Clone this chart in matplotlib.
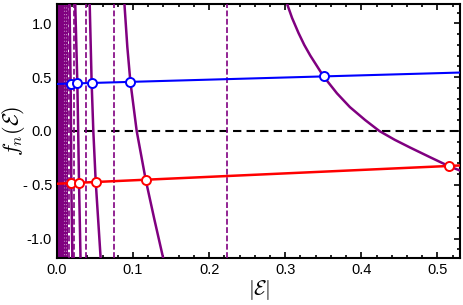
import matplotlib
matplotlib.use("Agg")
import matplotlib.pyplot as plt
from matplotlib.ticker import MultipleLocator, FixedLocator, FixedFormatter

plt.rcParams['font.family'] = ['Liberation Sans', 'DejaVu Sans']
plt.rcParams['mathtext.fontset'] = 'cm'

# purple branches (x = |E|, y = f_n)
branch1_x = [0.302, 0.309, 0.3175, 0.325, 0.333, 0.3504, 0.368, 0.385, 0.405, 0.4237,
             0.444, 0.4645, 0.4908, 0.5158, 0.5294]
branch1_y = [1.19, 1.05, 0.91, 0.80, 0.70, 0.507, 0.35, 0.222, 0.102, 0.0,
             -0.082, -0.155, -0.245, -0.329, -0.366]
branch2_x = [0.0886, 0.0925, 0.0965, 0.1048, 0.1167, 0.128, 0.1399]
branch2_y = [1.19, 0.78, 0.458, 0.0, -0.455, -0.82, -1.19]
branch3_x = [0.043, 0.0456, 0.0478, 0.0509, 0.0575]
branch3_y = [1.19, 0.446, 0.0, -0.465, -1.19]
branch4_x = [0.0240, 0.0268, 0.0279, 0.0290, 0.0310]
branch4_y = [1.19, 0.442, 0.0, -0.481, -1.19]
branch5_x = [0.0165, 0.0180, 0.0185, 0.0189, 0.0203]
branch5_y = [1.19, 0.441, 0.0, -0.484, -1.19]
branches = [(branch1_x, branch1_y), (branch2_x, branch2_y), (branch3_x, branch3_y),
            (branch4_x, branch4_y), (branch5_x, branch5_y)]

# dashed asymptotes
asymptotes = [0.0158, 0.0224, 0.0386, 0.0754, 0.223]
# branches too dense to tell apart near zero
dense_edge = 0.0140
dense_gaps = [0.0096, 0.0120]

# straight lines
blue_x = [0.0, 0.53]
blue_y = [0.437, 0.543]
red_x = [0.0, 0.53]
red_y = [-0.49, -0.32]

# intersection circles
blue_pts_x = [0.0180, 0.0268, 0.0456, 0.0965, 0.3504]
blue_pts_y = [0.441, 0.442, 0.446, 0.456, 0.507]
red_pts_x = [0.0189, 0.0290, 0.0509, 0.1167, 0.5158]
red_pts_y = [-0.484, -0.481, -0.474, -0.453, -0.329]

x_ticks = [0.0, 0.1, 0.2, 0.3, 0.4, 0.5]
x_labels = ['0.0', '0.1', '0.2', '0.3', '0.4', '0.5']
y_ticks = [-1.0, -0.5, 0.0, 0.5, 1.0]
y_labels = ['-1.0', '- 0.5', '0.0', '0.5', '1.0']

purple = '#800080'

fig = plt.figure(figsize=(4.63, 3.05), dpi=100)
ax = fig.add_axes([0.123, 0.154, 0.871, 0.833])

ax.axhline(0, color='black', lw=1.5, ls=(0, (4, 2.5)), zorder=1)
ax.axvspan(0, dense_edge, color=purple, lw=0, zorder=2)
for g in dense_gaps:
    ax.axvline(g, color='white', lw=0.8, ls=(0, (1, 2)), alpha=0.5, zorder=2.5)

for bx, by in branches:
    ax.plot(bx, by, color=purple, lw=1.8, zorder=3, solid_joinstyle='round')
for a in asymptotes:
    ax.axvline(a, color=purple, lw=1.2, ls=(0, (3.5, 1.5)), zorder=3)

ax.plot(blue_x, blue_y, color='blue', lw=1.5, zorder=4)
ax.plot(red_x, red_y, color='red', lw=1.8, zorder=4)
ax.plot(blue_pts_x, blue_pts_y, 'o', ms=6.5, mfc='white', mec='blue', mew=1.4, zorder=5)
ax.plot(red_pts_x, red_pts_y, 'o', ms=6.5, mfc='white', mec='red', mew=1.4, zorder=5)

ax.set_xlim(0, 0.53)
ax.set_ylim(-1.18, 1.18)

ax.xaxis.set_major_locator(FixedLocator(x_ticks))
ax.xaxis.set_major_formatter(FixedFormatter(x_labels))
ax.yaxis.set_major_locator(FixedLocator(y_ticks))
ax.yaxis.set_major_formatter(FixedFormatter(y_labels))
ax.xaxis.set_minor_locator(MultipleLocator(0.02))
ax.yaxis.set_minor_locator(MultipleLocator(0.1))
ax.tick_params(which='both', direction='in', top=True, right=True, width=1.2, labelsize=10.5)
ax.tick_params(which='major', length=4)
ax.tick_params(which='minor', length=2.5)
for s in ax.spines.values():
    s.set_linewidth(1.5)

ax.set_xlabel(r'$|\mathcal{E}|$', fontsize=15, labelpad=1)
ax.set_ylabel(r'$f_n(\mathcal{E})$', fontsize=16)
ax.yaxis.set_label_coords(-0.075, 0.5)

fig.savefig('out.png', dpi=100)
